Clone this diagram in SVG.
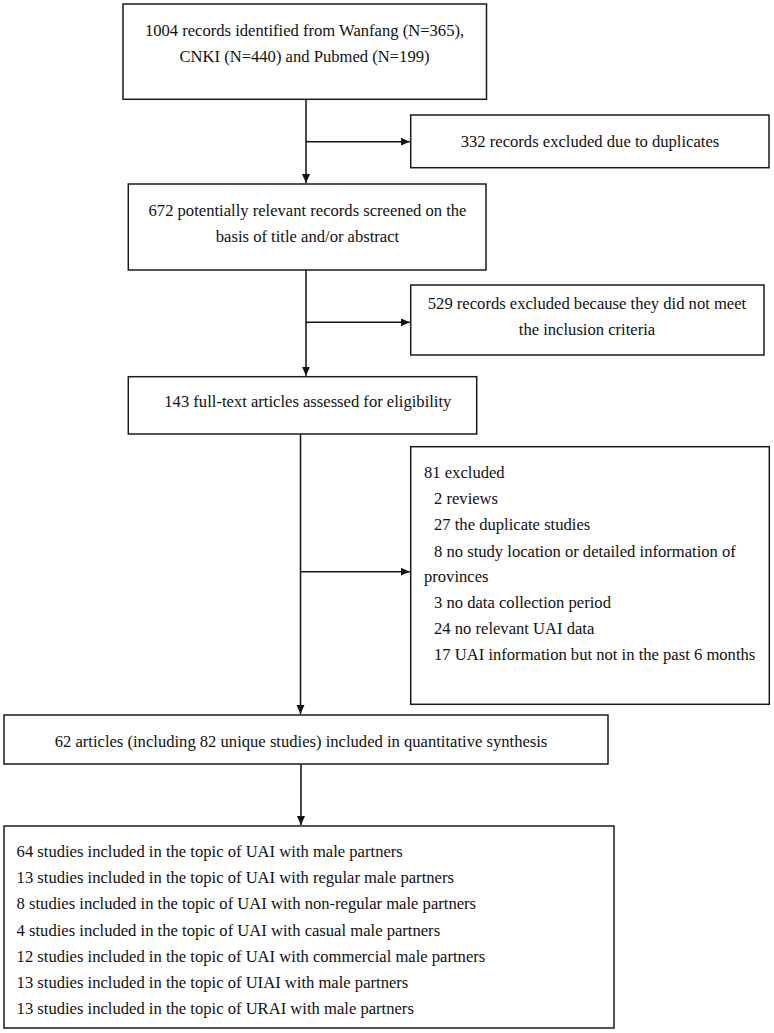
<svg xmlns="http://www.w3.org/2000/svg" width="774" height="1033" viewBox="0 0 774 1033">
<style>
.box{fill:#fff;stroke:#1a1a1a;stroke-width:1.5}
.t{font-family:"Liberation Serif","Times New Roman",serif;font-size:16.6px;fill:#111}
.c{text-anchor:middle}
.ln{fill:none;stroke:#111;stroke-width:1.5}
</style>
<defs>
<marker id="ah" markerUnits="userSpaceOnUse" markerWidth="10" markerHeight="9" refX="9" refY="4" orient="auto">
<path d="M0,0 L9,4 L0,8 z" fill="#111"/>
</marker>
</defs>
<rect width="774" height="1033" fill="#fff"/>
<g id="connectors">
<path class="ln" d="M306,99.3 V183" marker-end="url(#ah)"/>
<path class="ln" d="M306,141.7 H409.8" marker-end="url(#ah)"/>
<path class="ln" d="M306,270 V375.7" marker-end="url(#ah)"/>
<path class="ln" d="M306,322.3 H409.8" marker-end="url(#ah)"/>
<path class="ln" d="M300.5,434 V714" marker-end="url(#ah)"/>
<path class="ln" d="M300.5,571.7 H409.8" marker-end="url(#ah)"/>
<path class="ln" d="M301,764 V825" marker-end="url(#ah)"/>
</g>
<g id="n1">
<rect class="box" x="123" y="4" width="363.5" height="95.3"/>
<text class="t c" x="304.5" y="36">1004 records identified from Wanfang (N=365),</text>
<text class="t c" x="304.5" y="62">CNKI (N=440) and Pubmed (N=199)</text>
</g>
<g id="n2">
<rect class="box" x="410.7" y="115" width="358.3" height="52.7"/>
<text class="t c" x="590" y="146.7">332 records excluded due to duplicates</text>
</g>
<g id="n3">
<rect class="box" x="128.3" y="184" width="357.7" height="86"/>
<text class="t c" x="307.5" y="216">672 potentially relevant records screened on the</text>
<text class="t c" x="307.5" y="242">basis of title and/or abstract</text>
</g>
<g id="n4">
<rect class="box" x="410.7" y="285" width="353.3" height="70"/>
<text class="t c" x="587" y="309">529 records excluded because they did not meet</text>
<text class="t c" x="587" y="334.5">the inclusion criteria</text>
</g>
<g id="n5">
<rect class="box" x="128.3" y="376.7" width="348.4" height="57.3"/>
<text class="t" x="164.3" y="406.7">143 full-text articles assessed for eligibility</text>
</g>
<g id="n6">
<rect class="box" x="410.7" y="446.7" width="358.6" height="257.6"/>
<text class="t" x="424" y="478">81 excluded</text>
<text class="t" x="434" y="504">2 reviews</text>
<text class="t" x="434" y="530">27 the duplicate studies</text>
<text class="t" x="434" y="556.5">8 no study location or detailed information of</text>
<text class="t" x="424" y="582">provinces</text>
<text class="t" x="434" y="608">3 no data collection period</text>
<text class="t" x="434" y="634">24 no relevant UAI data</text>
<text class="t" x="434" y="660">17 UAI information but not in the past 6 months</text>
</g>
<g id="n7">
<rect class="box" x="4" y="715" width="604" height="49"/>
<text class="t c" x="301" y="747">62 articles (including 82 unique studies) included in quantitative synthesis</text>
</g>
<g id="n8">
<rect class="box" x="4" y="826" width="610" height="202"/>
<text class="t" x="16.6" y="857">64 studies included in the topic of UAI with male partners</text>
<text class="t" x="16.6" y="883">13 studies included in the topic of UAI with regular male partners</text>
<text class="t" x="16.6" y="909">8 studies included in the topic of UAI with non-regular male partners</text>
<text class="t" x="16.6" y="935.5">4 studies included in the topic of UAI with casual male partners</text>
<text class="t" x="16.6" y="961.7">12 studies included in the topic of UAI with commercial male partners</text>
<text class="t" x="16.6" y="987.7">13 studies included in the topic of UIAI with male partners</text>
<text class="t" x="16.6" y="1013.7">13 studies included in the topic of URAI with male partners</text>
</g>
</svg>
